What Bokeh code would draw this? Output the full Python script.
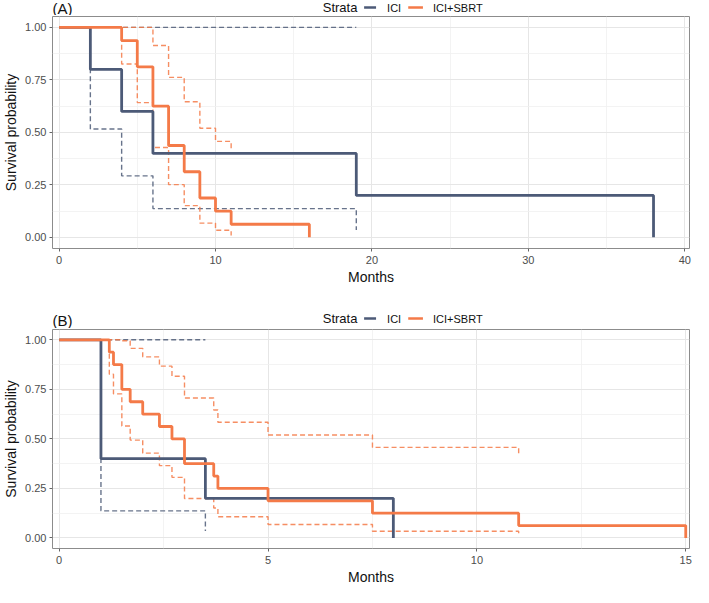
from bokeh.plotting import figure
from bokeh.models import FixedTicker, Range1d
from bokeh.layouts import column
from bokeh.core.properties import value
from bokeh.embed import file_html
from bokeh.resources import INLINE

ICI_COLOR = "#4c5a77"
SBRT_COLOR = "#f47a48"
FONT = "Liberation Sans"

strata = ["ICI", "ICI+SBRT"]
y_ticks = [0.0, 0.25, 0.5, 0.75, 1.0]
y_minor = [0.125, 0.375, 0.625, 0.875]
y_labels = ["0.00", "0.25", "0.50", "0.75", "1.00"]

# ---- Panel (A) ----
a_x_ticks = [0, 10, 20, 30, 40]
a_x_minor = [5, 15, 25, 35]
a_ici_t = [0, 2, 4, 6, 19, 38]
a_ici_s = [1.0, 0.8, 0.6, 0.4, 0.2, 0.0]
a_ici_ci_t = [0, 2, 4, 6, 19]
a_ici_lo = [1.0, 0.516, 0.293, 0.137, 0.035]
a_ici_hi = [1.0, 1.0, 1.0, 1.0, 1.0]
a_sbrt_t = [0, 4, 5, 6, 7, 8, 9, 10, 11, 16]
a_sbrt_s = [1.0, 0.9375, 0.8125, 0.625, 0.4375, 0.3125, 0.1875, 0.125, 0.0625, 0.0]
a_sbrt_ci_t = [0, 4, 5, 6, 7, 8, 9, 10, 11]
a_sbrt_lo = [1.0, 0.826, 0.642, 0.428, 0.251, 0.151, 0.068, 0.034, 0.009]
a_sbrt_hi = [1.0, 1.0, 1.0, 0.914, 0.762, 0.646, 0.520, 0.457, 0.417]

# ---- Panel (B) ----
b_x_ticks = [0, 5, 10, 15]
b_x_minor = [2.5, 7.5, 12.5]
b_ici_t = [0, 1, 3.5, 8]
b_ici_s = [1.0, 0.4, 0.2, 0.0]
b_ici_ci_t = [0, 1, 3.5]
b_ici_lo = [1.0, 0.137, 0.035]
b_ici_hi = [1.0, 1.0, 1.0]
b_sbrt_t = [0, 1.2, 1.3, 1.5, 1.7, 2.0, 2.4, 2.7, 3.0, 3.7, 3.8, 5.0, 7.5, 11, 15]
b_sbrt_s = [1.0, 0.9375, 0.875, 0.75, 0.6875, 0.625, 0.5625, 0.5, 0.375, 0.3125,
            0.25, 0.1875, 0.125, 0.0625, 0.0]
b_sbrt_ci_t = [0, 1.2, 1.3, 1.5, 1.7, 2.0, 2.4, 2.7, 3.0, 3.7, 3.8, 5.0, 7.5, 11]
b_sbrt_lo = [1.0, 0.826, 0.727, 0.565, 0.494, 0.428, 0.365, 0.306, 0.199, 0.151,
             0.107, 0.068, 0.034, 0.009]
b_sbrt_hi = [1.0, 1.0, 1.0, 0.995, 0.957, 0.914, 0.867, 0.816, 0.706, 0.646,
             0.584, 0.520, 0.457, 0.417]

W = 693


def make_header(tag, height, mid, tag_mid):
    """Header strip holding the panel tag and the 'Strata' legend (pixel coordinates)."""
    h = figure(width=W, height=height, x_range=Range1d(0, W), y_range=Range1d(0, height),
               output_backend="svg", toolbar_location=None,
               min_border=0, x_axis_type=None, y_axis_type=None)
    h.outline_line_color = None
    h.xgrid.visible = False
    h.ygrid.visible = False
    h.text(x=[0], y=[tag_mid], text=[tag], text_font=value(FONT), text_font_size="15px",
           text_baseline="middle", text_align="left", text_color="#111111")
    h.text(x=[294], y=[mid], text=["Strata"], text_font=value(FONT), text_font_size="13px",
           text_baseline="middle", text_align="left", text_color="#111111")
    h.segment(x0=[339], x1=[352], y0=[mid], y1=[mid], line_color=ICI_COLOR, line_width=2.6)
    h.segment(x0=[387], x1=[403], y0=[mid], y1=[mid], line_color=SBRT_COLOR, line_width=2.6)
    h.text(x=[364, 414], y=[mid, mid], text=strata, text_font=value(FONT),
           text_font_size="11px", text_baseline="middle", text_align="left",
           text_color="#111111")
    return h


def make_panel(x_range, xt, xm, curves, height, top, bottom):
    p = figure(width=W, height=height, x_range=x_range, y_range=Range1d(-0.053, 1.052),
               output_backend="svg", toolbar_location=None,
               min_border_left=46, min_border_right=4,
               min_border_top=top, min_border_bottom=bottom)
    p.background_fill_color = "white"
    p.outline_line_color = "#8c8c8c"
    p.outline_line_width = 1

    p.xaxis.ticker = FixedTicker(ticks=xt, minor_ticks=xm)
    p.yaxis.ticker = FixedTicker(ticks=y_ticks, minor_ticks=y_minor)
    p.yaxis.major_label_overrides = {t: l for t, l in zip(y_ticks, y_labels)}
    p.xaxis.axis_label = "Months"
    p.yaxis.axis_label = "Survival probability"
    for ax in (p.xaxis, p.yaxis):
        ax.axis_line_color = None
        ax.major_tick_line_color = "#666666"
        ax.major_tick_out = 3
        ax.major_tick_in = 0
        ax.minor_tick_line_color = None
        ax.major_label_text_font = FONT
        ax.major_label_text_font_size = "11px"
        ax.major_label_text_color = "#4d4d4d"
        ax.axis_label_text_font = FONT
        ax.axis_label_text_font_size = "14px"
        ax.axis_label_text_font_style = "normal"
        ax.axis_label_text_color = "#111111"
    p.xaxis.major_label_standoff = 3
    p.xaxis.axis_label_standoff = 2
    p.yaxis.major_label_standoff = 2
    p.yaxis.axis_label_standoff = 3

    for g in (p.xgrid, p.ygrid):
        g.grid_line_color = "#e6e6e6"
        g.grid_line_width = 1
        g.minor_grid_line_color = "#f0f0f0"
        g.minor_grid_line_width = 0.8

    for (t, s, ct, lo, hi, col) in curves:
        p.step(ct, lo, mode="after", line_color=col, line_width=1.4,
               line_dash="5 3", line_alpha=0.85)
        p.step(ct, hi, mode="after", line_color=col, line_width=1.4,
               line_dash="5 3", line_alpha=0.85)
    for (t, s, ct, lo, hi, col) in curves:
        p.step(t, s, mode="after", line_color=col, line_width=2.8)
    return p


ha = make_header("(A)", 15, mid=8, tag_mid=7.5)
pa = make_panel(Range1d(-0.42, 40.3), a_x_ticks, a_x_minor,
                [(a_ici_t, a_ici_s, a_ici_ci_t, a_ici_lo, a_ici_hi, ICI_COLOR),
                 (a_sbrt_t, a_sbrt_s, a_sbrt_ci_t, a_sbrt_lo, a_sbrt_hi, SBRT_COLOR)],
                height=273, top=1, bottom=40)
hb = make_header("(B)", 40, mid=10, tag_mid=8.5)
pb = make_panel(Range1d(-0.16, 15.09), b_x_ticks, b_x_minor,
                [(b_ici_t, b_ici_s, b_ici_ci_t, b_ici_lo, b_ici_hi, ICI_COLOR),
                 (b_sbrt_t, b_sbrt_s, b_sbrt_ci_t, b_sbrt_lo, b_sbrt_hi, SBRT_COLOR)],
                height=259, top=1, bottom=37)

layout = column(ha, pa, hb, pb, spacing=0)
open("out.html", "w").write(file_html(layout, INLINE))
